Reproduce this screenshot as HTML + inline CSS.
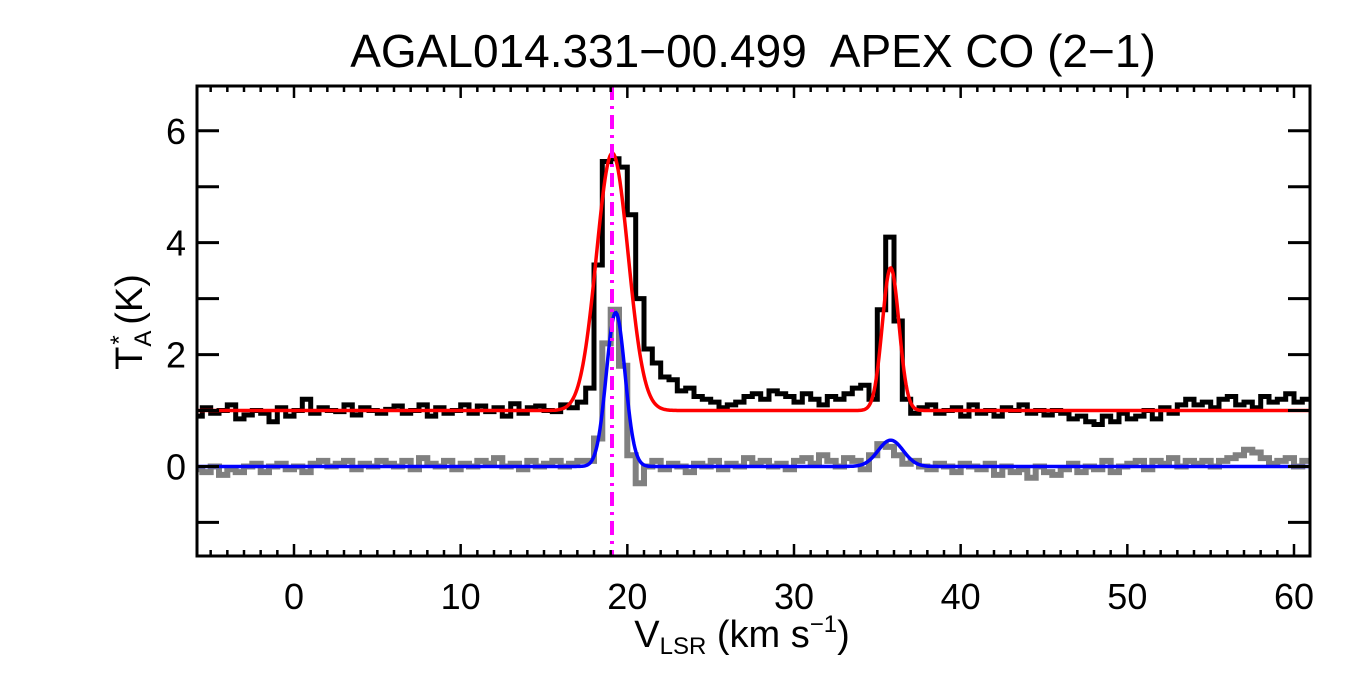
<!DOCTYPE html>
<html><head><meta charset="utf-8"><style>
body{margin:0;background:#fff;width:1350px;height:675px;overflow:hidden}
svg{display:block}
text{font-family:"Liberation Sans",sans-serif;fill:#000}
</style></head><body>
<svg id="chart" width="1350" height="675" xmlns="http://www.w3.org/2000/svg">
<text x="753" y="67" font-size="46" text-anchor="middle" style="white-space:pre">AGAL014.331−00.499  APEX CO (2−1)</text>
<g id="plot"></g>
<text x="742" y="647" font-size="38" text-anchor="middle">V<tspan font-size="24" dy="7">LSR</tspan><tspan dy="-7"> (km s</tspan><tspan font-size="24" dy="-15">−1</tspan><tspan dy="15">)</tspan></text>
<text transform="translate(142,322) rotate(-90)" font-size="38" text-anchor="middle">T<tspan font-size="24" dy="9">A</tspan><tspan font-size="24" dx="-14" dy="-24">*</tspan><tspan dy="15"> (K)</tspan></text>
</svg>
<script>
const vStart=-5.75, vStep=0.5;
const observed=[0.9,1.05,0.95,1.0,1.1,0.85,0.92,1.0,0.95,0.8,1.05,0.9,
1.0,1.2,0.95,1.05,1.0,0.98,1.1,0.92,1.05,1.0,0.95,1.02,
1.08,0.95,1.0,1.1,0.9,1.05,0.95,1.0,1.1,0.95,1.08,0.98,
1.05,0.9,1.12,0.95,1.05,1.08,1.0,0.98,1.1,1.05,1.15,1.4,
3.6,5.45,5.5,5.35,4.5,3.0,2.1,1.85,1.6,1.55,1.35,1.4,
1.25,1.2,1.15,1.05,1.1,1.15,1.25,1.3,1.2,1.35,1.3,1.25,
1.15,1.3,1.2,1.1,1.25,1.2,1.3,1.4,1.45,1.2,2.8,4.1,
2.6,1.2,0.95,1.05,1.1,0.95,1.0,1.05,0.9,1.1,0.95,1.0,
0.9,1.05,1.0,1.1,0.95,1.0,0.92,1.0,0.95,0.85,0.9,0.8,
0.75,0.9,0.8,0.95,0.85,0.9,1.0,0.85,1.05,0.95,1.1,1.2,
1.1,1.15,1.05,1.2,1.25,1.1,1.15,1.05,1.25,1.15,1.2,1.3,1.15,1.2];
const isotopologue=[-0.05,-0.1,0.0,-0.15,-0.05,-0.1,0.0,0.05,-0.1,0.0,0.05,-0.05,
0.0,-0.1,0.05,0.1,0.0,0.05,0.1,-0.05,0.05,0.0,0.1,0.05,
0.0,0.1,-0.05,0.15,0.05,0.0,0.1,-0.05,0.05,0.0,0.1,0.05,
0.15,0.0,0.05,-0.05,0.1,0.0,0.05,0.1,0.0,0.05,0.1,0.1,
0.5,2.2,2.8,1.8,0.2,-0.3,0.0,0.1,-0.05,0.05,0.0,-0.1,
0.05,0.0,0.1,-0.05,0.05,0.0,0.15,0.05,0.1,0.0,0.05,-0.05,
0.1,0.15,0.05,0.2,0.1,0.0,0.15,0.1,-0.05,0.2,0.4,0.35,
0.2,0.05,0.1,0.0,-0.05,0.05,0.0,-0.1,0.05,0.0,-0.05,0.05,
-0.15,0.0,-0.1,-0.05,-0.2,0.0,-0.1,-0.15,-0.05,0.05,-0.1,0.0,
-0.05,0.1,-0.1,0.0,0.05,0.1,-0.05,0.1,0.05,0.15,0.0,0.1,
0.05,0.1,0.0,0.1,0.15,0.2,0.3,0.25,0.15,0.05,0.1,0.15,0.0,0.1];
const redOffset=1.0;
const redAmps=[4.6,2.55], redCenters=[19.1,35.8], redSigmas=[0.95,0.5];
const blueAmps=[2.75,0.47], blueCenters=[19.3,35.8], blueSigmas=[0.56,0.75];
const vsysLine=19.08;
const xTicks=[0,10,20,30,40,50,60];
const yTicks=[0,2,4,6];
const xMin=-5.82,xMax=60.96,yMin=-1.6,yMax=6.8;
const L=197,R=1310,T=86,B=556;
const X=v=>L+(v-xMin)/(xMax-xMin)*(R-L);
const Y=t=>B-(t-yMin)/(yMax-yMin)*(B-T);
const NS="http://www.w3.org/2000/svg";
const g=document.getElementById('plot');
function mk(tag,attrs){const e=document.createElementNS(NS,tag);for(const k in attrs)e.setAttribute(k,attrs[k]);g.appendChild(e);return e;}
function stepPath(arr){let d='';arr.forEach((t,i)=>{const v0=vStart+vStep*i-vStep/2,v1=v0+vStep;const x0=Math.max(X(v0),L),x1=Math.min(X(v1),R);d+=(i?'L':'M')+x0.toFixed(1)+','+Y(t).toFixed(1)+'L'+x1.toFixed(1)+','+Y(t).toFixed(1);});return d;}
function fitPath(off,A,C,S){let d='';for(let px=L;px<=R;px+=1){const v=xMin+(px-L)/(R-L)*(xMax-xMin);let t=off;for(let k=0;k<A.length;k++)t+=A[k]*Math.exp(-Math.pow(v-C[k],2)/(2*S[k]*S[k]));d+=(px===L?'M':'L')+px+','+Y(t).toFixed(1);}return d;}
const gp=mk('path',{d:stepPath(isotopologue),fill:'none',stroke:'#808080','stroke-width':6});


const bp=mk('path',{d:stepPath(observed),fill:'none',stroke:'#000','stroke-width':5});


const rp=mk('path',{d:fitPath(redOffset,redAmps,redCenters,redSigmas),fill:'none',stroke:'#ff0000','stroke-width':3.5});


const blp=mk('path',{d:fitPath(0,blueAmps,blueCenters,blueSigmas),fill:'none',stroke:'#0000ff','stroke-width':3.5});


const ml=mk('line',{x1:X(vsysLine),x2:X(vsysLine),y1:T,y2:B,stroke:'#ff00ff','stroke-width':4,'stroke-dasharray':'14,6,3,6'});


const fr=mk('rect',{x:L,y:T,width:R-L,height:B-T,fill:'none',stroke:'#000','stroke-width':3});


for(let v=-5;v<=60;v++){const len=(v%10===0)?12:6;const x=X(v);
 const t1=mk('line',{x1:x,x2:x,y1:B,y2:B-len,stroke:'#000','stroke-width':2.5});
 
 
 const t2=mk('line',{x1:x,x2:x,y1:T,y2:T+len,stroke:'#000','stroke-width':2.5});
 
 }
for(let t=-1;t<=6;t++){const y=Y(t);
 const a=mk('line',{x1:L,x2:L+22,y1:y,y2:y,stroke:'#000','stroke-width':3});
 
 
 const b=mk('line',{x1:R,x2:R-22,y1:y,y2:y,stroke:'#000','stroke-width':3});
 
 }
xTicks.forEach(v=>{const e=mk('text',{x:X(v),y:609,'font-size':36,'text-anchor':'middle'});e.textContent=v;
 
 });
yTicks.forEach(t=>{const e=mk('text',{x:186,y:Y(t)+13,'font-size':36,'text-anchor':'end'});e.textContent=t;
 
 });
</script>
</body></html>
